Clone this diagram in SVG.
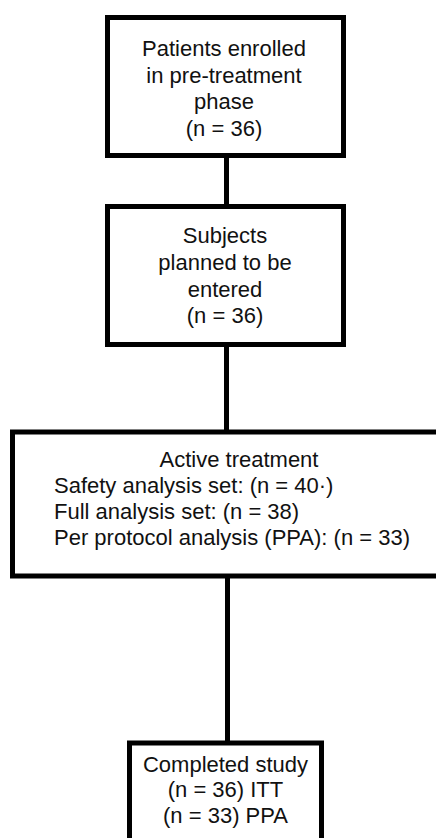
<svg xmlns="http://www.w3.org/2000/svg" width="436" height="838" viewBox="0 0 436 838">
<style>
.box{fill:#fff;stroke:#000;stroke-width:5}
.t{font-family:"Liberation Sans",Arial,sans-serif;font-size:22px;fill:#111}
.c{text-anchor:middle}
.conn{stroke:#000;stroke-width:5;fill:none}
</style>
<rect width="436" height="838" fill="#fff"/>
<g id="connectors">
<line class="conn" x1="226.5" y1="156" x2="226.5" y2="206"/>
<line class="conn" x1="226.5" y1="345" x2="226.5" y2="432"/>
<line class="conn" x1="227.5" y1="576" x2="227.5" y2="743"/>
</g>
<g id="n1">
<rect class="box" x="107.5" y="17.5" width="236" height="138"/>
<text class="t c" x="224" y="56">Patients enrolled</text>
<text class="t c" x="224" y="82.5">in pre-treatment</text>
<text class="t c" x="224" y="109">phase</text>
<text class="t c" x="224" y="135.5">(n = 36)</text>
</g>
<g id="n2">
<rect class="box" x="107.5" y="206.5" width="236" height="138"/>
<text class="t c" x="225" y="243.3">Subjects</text>
<text class="t c" x="225" y="270">planned to be</text>
<text class="t c" x="225" y="296.7">entered</text>
<text class="t c" x="225" y="323.3">(n = 36)</text>
</g>
<g id="n3">
<rect class="box" x="12.5" y="432" width="460" height="144"/>
<text class="t c" x="239" y="467">Active treatment</text>
<text class="t" x="54" y="493">Safety analysis set: (n = 40·)</text>
<text class="t" x="54" y="519">Full analysis set: (n = 38)</text>
<text class="t" x="54" y="545">Per protocol analysis (PPA): (n = 33)</text>
</g>
<g id="n4">
<rect class="box" x="129.5" y="743" width="192" height="120"/>
<text class="t c" x="225.5" y="771.7">Completed study</text>
<text class="t c" x="225.5" y="797.3">(n = 36) ITT</text>
<text class="t c" x="225.5" y="823.3">(n = 33) PPA</text>
</g>
</svg>
